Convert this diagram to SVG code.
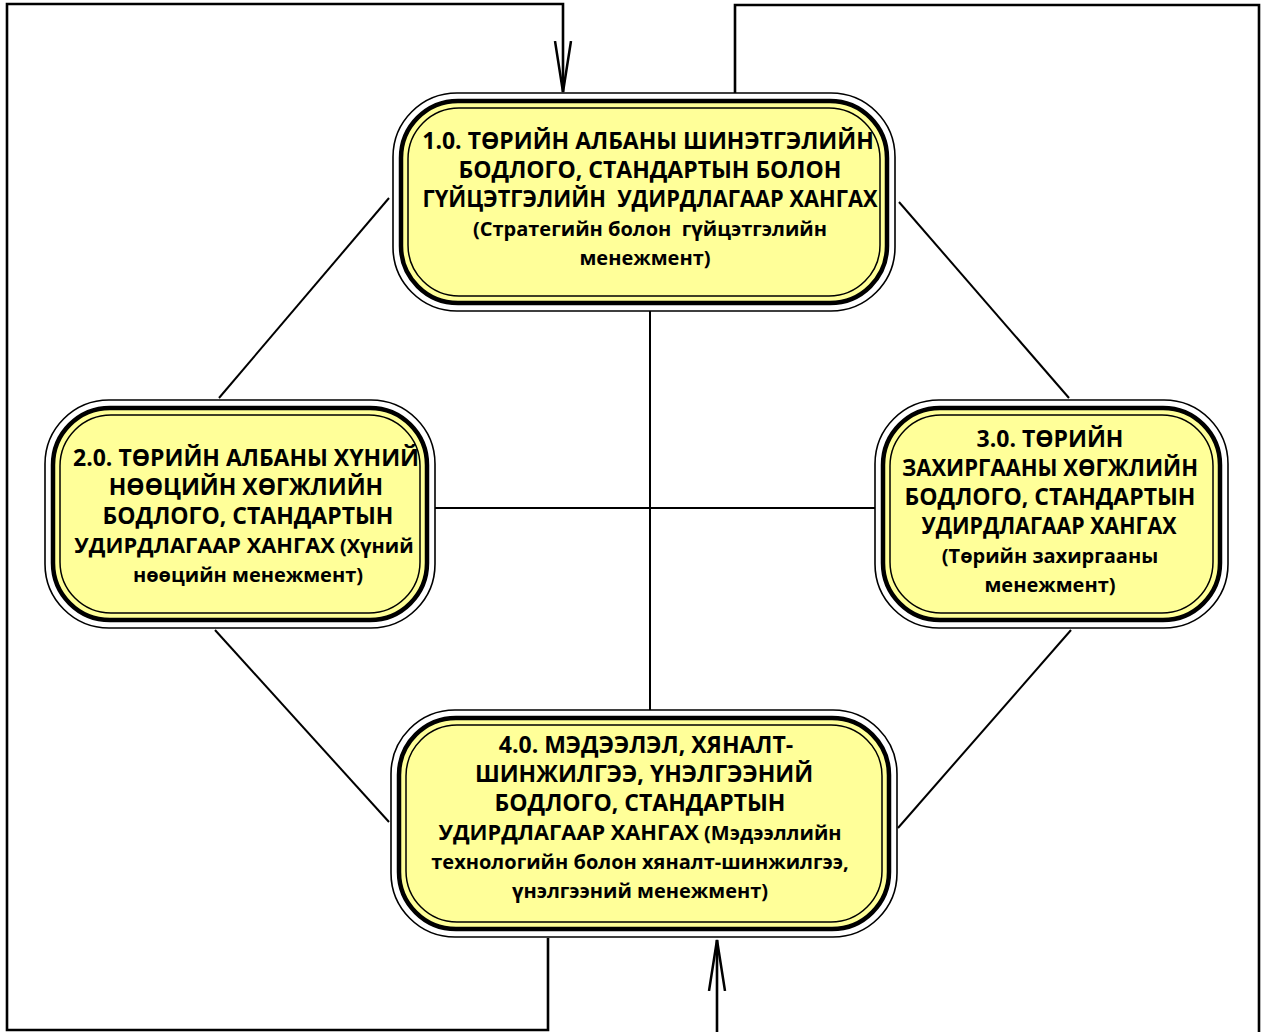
<svg xmlns="http://www.w3.org/2000/svg" width="1262" height="1032" viewBox="0 0 1262 1032">
<defs>
<style>
.o{fill:#fff;stroke:#000;stroke-width:1.6}
.t{fill:#FFFF99;stroke:#000;stroke-width:4.5}
.i{fill:#FFFF99;stroke:#000;stroke-width:1.5}
.c{fill:none;stroke:#000;stroke-width:2}
.f{fill:none;stroke:#000;stroke-width:2.6}
text{font-family:"Open Sans","Noto Sans","DejaVu Sans",sans-serif;font-weight:bold;font-size:20px;fill:#000;text-anchor:middle}
.u{font-size:23px}
.m{font-size:21.8px}
</style>
<marker id="arrow" markerUnits="userSpaceOnUse" markerWidth="60" markerHeight="24" viewBox="0 0 60 24" refX="51" refY="12" orient="auto">
<path d="M0,4 L51,12 L0,20" fill="none" stroke="#000" stroke-width="2.5"/>
</marker>
</defs>
<rect width="1262" height="1032" fill="#fff"/>
<g id="connectors">
<line class="c" x1="389" y1="198" x2="219" y2="398"/>
<line class="c" x1="899" y1="202" x2="1069" y2="398"/>
<line class="c" x1="215" y1="630" x2="389" y2="822"/>
<line class="c" x1="1071" y1="630" x2="898" y2="828"/>
<line class="c" x1="650" y1="311" x2="650" y2="710"/>
<line class="c" x1="435" y1="508" x2="875" y2="508"/>
<path class="f" d="M548,938 L548,1030 L7,1030 L7,4 L563,4 L563,92" marker-end="url(#arrow)"/>
<path class="f" d="M735,93 L735,5 L1259,5 L1259,1045 L717,1045 L717,940" marker-end="url(#arrow)"/>
</g>
<g id="node1">
<rect class="o" x="393" y="93" width="502" height="218" rx="64"/>
<rect class="t" x="401" y="101" width="486" height="202" rx="57"/>
<rect class="i" x="408" y="108" width="472" height="188" rx="51"/>
<text class="u" x="648" y="149">1.0. ТӨРИЙН АЛБАНЫ ШИНЭТГЭЛИЙН</text>
<text class="u" x="650" y="178">БОДЛОГО, СТАНДАРТЫН БОЛОН</text>
<text class="u" x="650" y="207" xml:space="preserve" textLength="455" lengthAdjust="spacingAndGlyphs">ГҮЙЦЭТГЭЛИЙН  УДИРДЛАГААР ХАНГАХ</text>
<text x="650" y="236" xml:space="preserve">(Стратегийн болон  гүйцэтгэлийн</text>
<text x="645" y="265">менежмент)</text>
</g>
<g id="node2">
<rect class="o" x="45" y="400" width="390" height="228" rx="64"/>
<rect class="t" x="53" y="408" width="374" height="212" rx="57"/>
<rect class="i" x="60" y="415" width="360" height="198" rx="51"/>
<text class="u" x="246" y="466">2.0. ТӨРИЙН АЛБАНЫ ХҮНИЙ</text>
<text class="u" x="246" y="495">НӨӨЦИЙН ХӨГЖЛИЙН</text>
<text class="u" x="248" y="524">БОДЛОГО, СТАНДАРТЫН</text>
<text x="244" y="553"><tspan class="m">УДИРДЛАГААР ХАНГАХ</tspan> (Хүний</text>
<text x="248" y="582">нөөцийн менежмент)</text>
</g>
<g id="node3">
<rect class="o" x="875" y="400" width="353" height="228" rx="64"/>
<rect class="t" x="883" y="408" width="337" height="212" rx="57"/>
<rect class="i" x="890" y="415" width="323" height="198" rx="51"/>
<text class="u" x="1050" y="447">3.0. ТӨРИЙН</text>
<text class="u" x="1050" y="476" textLength="296" lengthAdjust="spacingAndGlyphs">ЗАХИРГААНЫ ХӨГЖЛИЙН</text>
<text class="u" x="1050" y="505">БОДЛОГО, СТАНДАРТЫН</text>
<text class="u" x="1049" y="534" textLength="255" lengthAdjust="spacingAndGlyphs">УДИРДЛАГААР ХАНГАХ</text>
<text x="1050" y="563">(Төрийн захиргааны</text>
<text x="1050" y="592">менежмент)</text>
</g>
<g id="node4">
<rect class="o" x="391" y="710" width="506" height="227" rx="64"/>
<rect class="t" x="399" y="718" width="490" height="211" rx="57"/>
<rect class="i" x="406" y="725" width="476" height="197" rx="51"/>
<text class="u" x="646" y="753">4.0. МЭДЭЭЛЭЛ, ХЯНАЛТ-</text>
<text class="u" x="644" y="782">ШИНЖИЛГЭЭ, ҮНЭЛГЭЭНИЙ</text>
<text class="u" x="640" y="811">БОДЛОГО, СТАНДАРТЫН</text>
<text x="640" y="840"><tspan class="m">УДИРДЛАГААР ХАНГАХ</tspan> (Мэдээллийн</text>
<text x="640" y="869">технологийн болон хяналт-шинжилгээ,</text>
<text x="640" y="898">үнэлгээний менежмент)</text>
</g>
</svg>
